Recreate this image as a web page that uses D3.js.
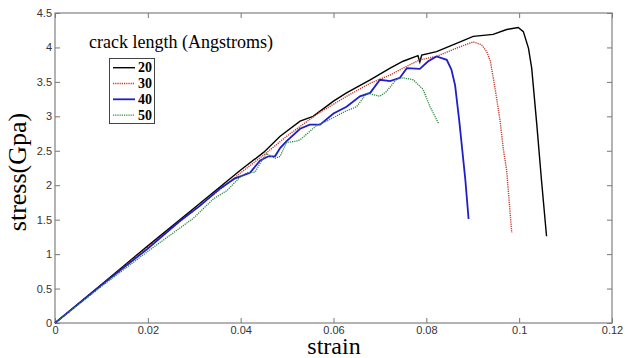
<!DOCTYPE html>
<html>
<head>
<meta charset="utf-8">
<script src="https://cdn.jsdelivr.net/npm/d3@7"></script>
<style>
  body { margin: 0; background: #fff; }
  .tick text { font-family: Arial, "Liberation Sans", sans-serif; font-size: 11px; fill: #333; }
</style>
</head>
<body>
<div id="container"></div>
<script>
/* DATA */
const xTicks = [0, 0.02, 0.04, 0.06, 0.08, 0.1, 0.12]
const yTicks = [0, 0.5, 1, 1.5, 2, 2.5, 3, 3.5, 4, 4.5]
const crackLengths = ["20", "30", "40", "50"]

const crack20 = [[0,0],[0.01,0.56],[0.02,1.12],[0.03,1.67],[0.04,2.22],[0.045,2.48],[0.0485,2.71],[0.0528,2.93],
  [0.0556,3.00],[0.06,3.22],[0.0628,3.34],[0.0679,3.53],[0.0722,3.70],[0.075,3.80],[0.0782,3.88],[0.0786,3.79],
  [0.079,3.89],[0.0822,3.94],[0.0865,4.06],[0.0901,4.16],[0.0944,4.19],[0.0973,4.26],[0.0998,4.29],[0.1009,4.23],
  [0.102,3.99],[0.1027,3.70],[0.1038,2.88],[0.1048,2.08],[0.1059,1.26]]

const crack30 = [[0,0],[0.01,0.55],[0.02,1.10],[0.03,1.64],[0.04,2.18],[0.045,2.44],[0.0499,2.71],[0.0564,3.03],
  [0.0628,3.29],[0.0679,3.48],[0.0722,3.60],[0.075,3.70],[0.0786,3.82],[0.0822,3.87],[0.0865,3.99],[0.0901,4.08],
  [0.0919,4.04],[0.093,3.94],[0.0938,3.80],[0.0948,3.41],[0.0959,2.93],[0.0966,2.52],[0.0973,2.22],[0.0984,1.31]]

const crack40 = [[0,0],[0.01,0.55],[0.02,1.08],[0.0269,1.48],[0.0312,1.70],[0.0355,1.95],[0.0388,2.10],[0.042,2.18],
  [0.0442,2.36],[0.046,2.42],[0.0474,2.42],[0.0485,2.54],[0.0499,2.64],[0.0528,2.82],[0.0549,2.88],[0.0571,2.88],
  [0.06,3.04],[0.0628,3.14],[0.0657,3.29],[0.0679,3.34],[0.07,3.53],[0.0722,3.51],[0.0743,3.56],[0.0758,3.70],
  [0.0786,3.69],[0.0804,3.80],[0.0822,3.87],[0.0844,3.82],[0.0854,3.68],[0.0862,3.45],[0.0871,2.93],[0.0884,2.08],
  [0.0891,1.51]]

const crack50 = [[0,0],[0.01,0.53],[0.02,1.04],[0.0298,1.52],[0.0341,1.80],[0.037,1.92],[0.0399,2.12],[0.0413,2.18],
  [0.0431,2.19],[0.0442,2.32],[0.0456,2.46],[0.0474,2.39],[0.0485,2.42],[0.0499,2.62],[0.052,2.64],[0.0528,2.66],
  [0.0564,2.87],[0.0585,2.93],[0.0628,3.08],[0.065,3.14],[0.0672,3.34],[0.07,3.29],[0.0714,3.36],[0.0736,3.54],
  [0.075,3.56],[0.0772,3.53],[0.0793,3.39],[0.0808,3.14],[0.0826,2.90]]

/* CONSTANTS */
const width = 633,
  height = 358,
  margin = { top: 13, bottom: 35, left: 55, right: 21 }

const series = [
  { name: crackLengths[0], data: crack20, color: "#000000", width: 1.4, dash: null },
  { name: crackLengths[1], data: crack30, color: "#c0392b", width: 1.4, dash: "1.2,1" },
  { name: crackLengths[2], data: crack40, color: "#1f1fc8", width: 1.8, dash: null },
  { name: crackLengths[3], data: crack50, color: "#2e8b3e", width: 1.3, dash: "1.2,1" }
]

// SCALES
const xScale = d3.scaleLinear()
  .domain([0, 0.12])
  .range([margin.left, width - margin.right])

const yScale = d3.scaleLinear()
  .domain([0, 4.5])
  .range([height - margin.bottom, margin.top])

// SVG
const svg = d3.select("#container")
  .append("svg")
  .attr("width", width)
  .attr("height", height)

// AXES (matlab style, ticks inside on all sides)
const fmt = d => d === 0 ? "0" : String(d)

svg.append("g")
  .attr("transform", `translate(0, ${height - margin.bottom})`)
  .call(d3.axisBottom(xScale).tickValues(xTicks).tickSizeInner(-5).tickSizeOuter(0).tickPadding(3).tickFormat(fmt))

svg.append("g")
  .attr("transform", `translate(${margin.left}, 0)`)
  .call(d3.axisLeft(yScale).tickValues(yTicks).tickSizeInner(-5).tickSizeOuter(0).tickPadding(3).tickFormat(fmt))

svg.append("g")
  .attr("transform", `translate(0, ${margin.top})`)
  .call(d3.axisTop(xScale).tickValues(xTicks).tickSizeInner(-5).tickSizeOuter(0).tickFormat(""))

svg.append("g")
  .attr("transform", `translate(${width - margin.right}, 0)`)
  .call(d3.axisRight(yScale).tickValues(yTicks).tickSizeInner(-5).tickSizeOuter(0).tickFormat(""))

svg.selectAll(".domain").remove()
svg.selectAll(".tick line").attr("stroke", "#777")

svg.append("rect")
  .attr("x", margin.left)
  .attr("y", margin.top)
  .attr("width", width - margin.left - margin.right)
  .attr("height", height - margin.top - margin.bottom)
  .attr("fill", "none")
  .attr("stroke", "#808080")
  .attr("stroke-width", 1.2)

// LINES
const lineGen = d3.line()
  .x(d => xScale(d[0]))
  .y(d => yScale(d[1]))

svg.selectAll(".line")
  .data(series)
  .join("path")
  .attr("class", "line")
  .attr("fill", "none")
  .attr("stroke", d => d.color)
  .attr("stroke-width", d => d.width)
  .attr("stroke-dasharray", d => d.dash)
  .attr("d", d => lineGen(d.data))

// AXIS LABELS
svg.append("text")
  .attr("transform", "rotate(-90)")
  .attr("x", -172)
  .attr("y", 26)
  .style("text-anchor", "middle")
  .attr("font-family", "Liberation Serif, Times New Roman, serif")
  .attr("font-size", 26)
  .text("stress(Gpa)")

svg.append("text")
  .attr("x", 334)
  .attr("y", 354)
  .style("text-anchor", "middle")
  .attr("font-family", "Liberation Serif, Times New Roman, serif")
  .attr("font-size", 24)
  .text("strain")

// LEGEND
svg.append("text")
  .attr("x", 89)
  .attr("y", 48)
  .attr("font-family", "Liberation Serif, Times New Roman, serif")
  .attr("font-size", 18)
  .text("crack length (Angstroms)")

svg.append("rect")
  .attr("x", 109.5)
  .attr("y", 58.5)
  .attr("width", 45)
  .attr("height", 65)
  .attr("fill", "#fff")
  .attr("stroke", "#444")
  .attr("stroke-width", 1)

const legend = svg.selectAll(".legend")
  .data(series)
  .join("g")
  .attr("class", "legend")
  .attr("transform", (d, i) => `translate(0, ${67.7 + i * 15.8})`)

legend.append("line")
  .attr("x1", 113)
  .attr("x2", 135)
  .attr("stroke", d => d.color)
  .attr("stroke-width", d => d.width)
  .attr("stroke-dasharray", d => d.dash)

legend.append("text")
  .attr("x", 138)
  .attr("y", 4.5)
  .attr("font-family", "Liberation Serif, Times New Roman, serif")
  .attr("font-weight", "bold")
  .attr("font-size", 14)
  .text(d => d.name)
</script>
</body>
</html>
